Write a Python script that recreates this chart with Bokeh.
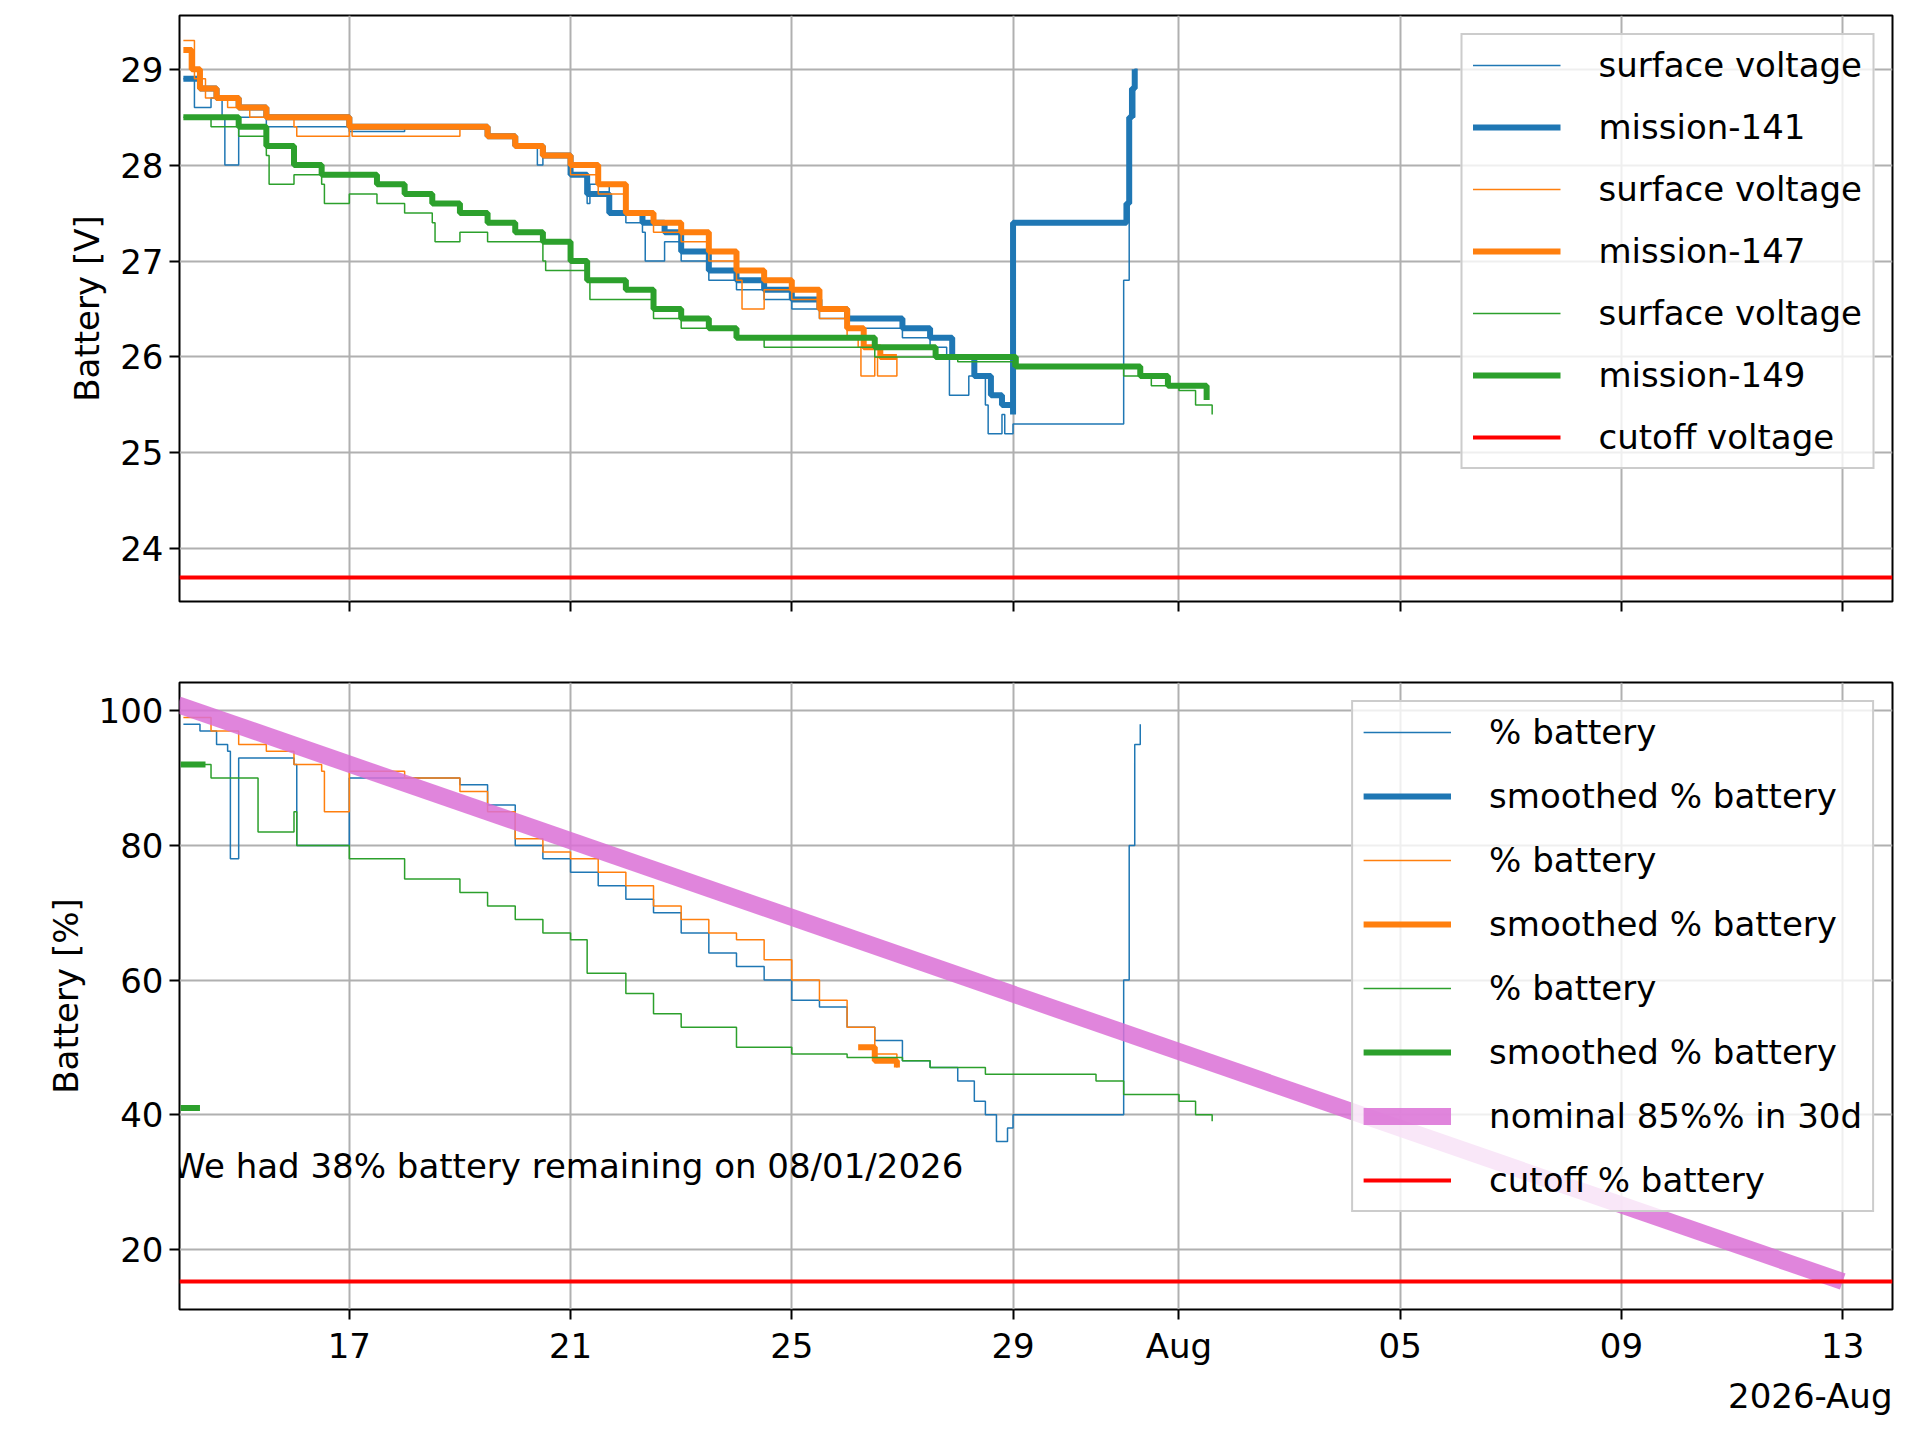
from bokeh.plotting import figure
from bokeh.layouts import column
from bokeh.models import FixedTicker, Legend, LegendItem, Label, Title
from bokeh.embed import file_html
from bokeh.resources import INLINE

# x = days since 2026-07-14 00:00
tick_pos = [3, 7, 11, 15, 18, 22, 26, 30]
tick_lab = ["17", "21", "25", "29", "Aug", "05", "09", "13"]

# ---- voltage ----
b_sm_x = [0, 0.3, 0.6, 1, 1.5, 3, 5, 5.5, 6, 6.5, 7, 7.3, 7.7, 8.3, 8.7, 9, 9.5, 10, 10.5, 11, 11.5, 12, 13, 13.5, 13.9, 14.3, 14.6, 14.8, 15.0, 15.0, 17.0, 17.05, 17.1, 17.15, 17.2]
b_sm_y = [28.9, 28.8, 28.7, 28.6, 28.5, 28.4, 28.4, 28.3, 28.2, 28.1, 27.9, 27.7, 27.5, 27.4, 27.3, 27.1, 26.9, 26.8, 26.7, 26.6, 26.5, 26.4, 26.3, 26.2, 26.0, 25.8, 25.6, 25.5, 25.4, 27.4, 27.4, 27.6, 28.5, 28.8, 29.0]
b_sf_x = [0, 0.2, 0.5, 0.7, 0.75, 1, 1.5, 2.5, 3, 4, 5, 5.5, 6, 6.4, 6.5, 7, 7.3, 7.35, 7.7, 8, 8.3, 8.35, 8.7, 9, 9.5, 10, 10.5, 11, 11.5, 12, 13, 13.5, 13.8, 13.85, 14.2, 14.5, 14.55, 14.8, 14.85, 15.0, 17.0, 17.1, 17.2, 17.25]
b_sf_y = [28.9, 28.6, 28.7, 28.5, 28.0, 28.5, 28.4, 28.4, 28.35, 28.4, 28.4, 28.3, 28.2, 28.0, 28.1, 27.9, 27.6, 27.8, 27.5, 27.4, 27.3, 27.0, 27.2, 27.0, 26.8, 26.7, 26.6, 26.5, 26.4, 26.3, 26.2, 26.1, 26.0, 25.6, 25.8, 25.5, 25.2, 25.4, 25.2, 25.3, 26.8, 28.5, 29.0, 29.0]

o_sm_x = [0, 0.15, 0.3, 0.6, 1, 1.5, 3, 5, 5.5, 6, 6.5, 7, 7.5, 8, 8.5, 9, 9.5, 10, 10.5, 11, 11.5, 12, 12.3, 12.6, 12.9]
o_sm_y = [29.2, 29.0, 28.8, 28.7, 28.6, 28.5, 28.4, 28.4, 28.3, 28.2, 28.1, 28.0, 27.8, 27.5, 27.4, 27.3, 27.1, 26.9, 26.8, 26.7, 26.5, 26.3, 26.1, 26.0, 26.0]
o_sf_x = [0, 0.2, 0.4, 0.8, 1.2, 1.5, 2, 2.05, 3, 3.05, 5, 5.5, 6, 6.5, 7, 7.5, 8, 8.5, 9, 9.5, 10, 10.1, 10.5, 11, 11.5, 12, 12.2, 12.25, 12.5, 12.55, 12.9]
o_sf_y = [29.3, 28.9, 28.7, 28.6, 28.5, 28.5, 28.4, 28.3, 28.4, 28.3, 28.4, 28.3, 28.2, 28.1, 27.9, 27.7, 27.5, 27.3, 27.2, 27.0, 26.8, 26.5, 26.7, 26.6, 26.4, 26.2, 26.1, 25.8, 26.0, 25.8, 26.0]

g_sm_x = [0, 1, 1.5, 2, 2.5, 3.5, 4, 4.5, 5, 5.5, 6, 6.5, 7, 7.3, 8, 8.5, 9, 9.5, 10, 12, 12.5, 13.5, 13.6, 15, 15.05, 17, 17.3, 17.8, 18.5]
g_sm_y = [28.5, 28.4, 28.2, 28.0, 27.9, 27.8, 27.7, 27.6, 27.5, 27.4, 27.3, 27.2, 27.0, 26.8, 26.7, 26.5, 26.4, 26.3, 26.2, 26.2, 26.1, 26.1, 26.0, 26.0, 25.9, 25.9, 25.8, 25.7, 25.55]
g_sf_x = [0, 0.5, 1, 1.5, 1.55, 2, 2.5, 2.55, 3, 3.5, 4, 4.5, 4.55, 5, 5.5, 6, 6.5, 6.55, 7, 7.3, 7.35, 8, 8.5, 9, 9.5, 10, 10.5, 12, 12.5, 13.5, 14, 15, 16, 17, 17.5, 18, 18.3, 18.6]
g_sf_y = [28.5, 28.4, 28.3, 28.1, 27.8, 27.9, 27.8, 27.6, 27.7, 27.6, 27.5, 27.4, 27.2, 27.3, 27.2, 27.2, 27.0, 26.9, 26.9, 26.8, 26.6, 26.6, 26.4, 26.3, 26.3, 26.2, 26.1, 26.1, 26.0, 26.0, 25.95, 25.9, 25.9, 25.8, 25.7, 25.65, 25.5, 25.4]

v_cutoff = 23.7

# ---- percent ----
bp_x = [0, 0.3, 0.6, 0.8, 0.85, 1, 2, 2.05, 3, 4, 5, 5.5, 6, 6.5, 7, 7.5, 8, 8.5, 9, 9.5, 10, 10.5, 11, 11.5, 12, 12.5, 13, 13.5, 14, 14.3, 14.5, 14.7, 14.9, 15.0, 17.0, 17.1, 17.2, 17.3]
bp_y = [98, 97, 95, 94, 78, 93, 92, 80, 90, 90, 89, 86, 80, 78, 76, 74, 72, 70, 67, 64, 62, 60, 57, 56, 53, 51, 48, 47, 45, 42, 40, 36, 38, 40, 60, 80, 95, 98]
op_x = [0, 0.5, 1, 1.5, 2, 2.5, 2.55, 3, 4, 4.5, 5, 5.5, 6, 6.5, 7, 7.5, 8, 8.5, 9, 9.5, 10, 10.5, 11, 11.5, 12, 12.5, 12.9]
op_y = [99, 97, 95, 94, 92, 91, 85, 91, 90, 90, 88, 85, 81, 79, 78, 76, 74, 71, 69, 67, 66, 63, 60, 57, 53, 49, 47]
op_sm_x = [12.2, 12.5, 12.9]
op_sm_y = [50, 48, 47]
gp_x = [0, 0.5, 1, 1.3, 1.35, 2, 2.05, 3, 4, 5, 5.5, 6, 6.5, 7, 7.3, 8, 8.5, 9, 10, 11, 12, 13, 13.5, 14.5, 16, 16.5, 17, 18, 18.3, 18.6]
gp_y = [92, 90, 90, 90, 82, 85, 80, 78, 75, 73, 71, 69, 67, 66, 61, 58, 55, 53, 50, 49, 48.5, 48, 47, 46, 46, 45, 43, 42, 40, 39]
gp_sm1_x = [-0.05, 0.4]
gp_sm1_y = [92, 92]
gp_sm2_x = [-0.05, 0.3]
gp_sm2_y = [41, 41]
nom_x = [-0.1, 30]
nom_y = [100.9, 15.2]
p_cutoff = 15.2

blue, orange, green = "#1f77b4", "#ff7f0e", "#2ca02c"
FS = "34px"

def base(h, bt, bb):
    f = figure(width=1904, height=h, x_range=(-0.07, 30.9), output_backend="svg",
               toolbar_location=None, min_border_left=179, min_border_right=12,
               min_border_top=bt, min_border_bottom=bb)
    f.outline_line_color = "black"
    f.outline_line_width = 2
    f.outline_line_alpha = 1
    for ax in (f.xaxis[0], f.yaxis[0]):
        ax.axis_line_color = None
        ax.major_tick_line_width = 2
        ax.major_tick_out = 10
        ax.major_tick_in = 0
        ax.major_label_standoff = 6
        ax.minor_tick_line_color = None
        ax.major_label_text_font_size = FS
        ax.major_label_text_font = "DejaVu Sans"
        ax.major_label_text_color = "black"
        ax.axis_label_text_font_size = FS
        ax.axis_label_text_font = "DejaVu Sans"
        ax.axis_label_text_font_style = "normal"
        ax.axis_label_text_color = "black"
        ax.axis_label_standoff = 10
    f.xaxis.ticker = FixedTicker(ticks=tick_pos)
    f.xaxis.major_label_overrides = dict(zip(tick_pos, tick_lab))
    f.xgrid.ticker = FixedTicker(ticks=tick_pos)
    for g in (f.xgrid[0], f.ygrid[0]):
        g.grid_line_color = "#b0b0b0"
        g.grid_line_width = 2
    return f

def mklegend(f, items, spacing):
    lg = Legend(items=items, location="top_right", label_text_font_size=FS,
                label_text_font="DejaVu Sans", label_text_color="black",
                glyph_width=88, glyph_height=32, label_standoff=38,
                spacing=spacing, padding=10, margin=18, border_line_color="#cccccc",
                border_line_width=2, border_line_alpha=1, background_fill_alpha=0.8)
    f.add_layout(lg)

top = base(660, 15, 22)
top.y_range.start, top.y_range.end = 23.45, 29.56
top.yaxis.ticker = FixedTicker(ticks=[24, 25, 26, 27, 28, 29])
top.ygrid.ticker = FixedTicker(ticks=[24, 25, 26, 27, 28, 29])
top.xaxis.major_label_overrides = {t: " " for t in tick_pos}
top.yaxis.axis_label = "Battery [V]"
r1 = top.step(b_sf_x, b_sf_y, color=blue, line_width=1.5, mode="after")
r2 = top.step(b_sm_x, b_sm_y, color=blue, line_width=6, mode="after")
r3 = top.step(o_sf_x, o_sf_y, color=orange, line_width=1.5, mode="after")
r4 = top.step(o_sm_x, o_sm_y, color=orange, line_width=6, mode="after")
r5 = top.step(g_sf_x, g_sf_y, color=green, line_width=1.5, mode="after")
r6 = top.step(g_sm_x, g_sm_y, color=green, line_width=6, mode="after")
r7 = top.line([-0.07, 30.9], [v_cutoff, v_cutoff], color="red", line_width=4)
mklegend(top, [LegendItem(label="surface voltage", renderers=[r1]),
               LegendItem(label="mission-141", renderers=[r2]),
               LegendItem(label="surface voltage", renderers=[r3]),
               LegendItem(label="mission-147", renderers=[r4]),
               LegendItem(label="surface voltage", renderers=[r5]),
               LegendItem(label="mission-149", renderers=[r6]),
               LegendItem(label="cutoff voltage", renderers=[r7])], 22)

bot = base(760, 22, 60)
bot.y_range.start, bot.y_range.end = 11.05, 104.2
bot.yaxis.ticker = FixedTicker(ticks=[20, 40, 60, 80, 100])
bot.ygrid.ticker = FixedTicker(ticks=[20, 40, 60, 80, 100])
bot.yaxis.axis_label = "Battery [%]"
q1 = bot.step(bp_x, bp_y, color=blue, line_width=1.5, mode="after")
q3 = bot.step(op_x, op_y, color=orange, line_width=1.5, mode="after")
q4 = bot.step(op_sm_x, op_sm_y, color=orange, line_width=6, mode="after")
q5 = bot.step(gp_x, gp_y, color=green, line_width=1.5, mode="after")
q6 = bot.line(gp_sm1_x, gp_sm1_y, color=green, line_width=6)
bot.line(gp_sm2_x, gp_sm2_y, color=green, line_width=6)
q2 = bot.line([-5, -4], [50, 50], color=blue, line_width=6)
q7 = bot.line(nom_x, nom_y, color="orchid", line_width=17, alpha=0.85)
q8 = bot.line([-0.07, 30.9], [p_cutoff, p_cutoff], color="red", line_width=4)
mklegend(bot, [LegendItem(label="% battery", renderers=[q1]),
               LegendItem(label="smoothed % battery", renderers=[q2]),
               LegendItem(label="% battery", renderers=[q3]),
               LegendItem(label="smoothed % battery", renderers=[q4]),
               LegendItem(label="% battery", renderers=[q5]),
               LegendItem(label="smoothed % battery", renderers=[q6]),
               LegendItem(label="nominal 85%% in 30d", renderers=[q7]),
               LegendItem(label="cutoff % battery", renderers=[q8])], 24)
bot.add_layout(Label(x=-0.2, y=32.4, text="We had 38% battery remaining on 08/01/2026",
                     text_font_size=FS, text_font="DejaVu Sans", text_baseline="middle",
                     text_color="black"))
bot.add_layout(Title(text="2026-Aug", align="right", text_font_size=FS,
                     text_font="DejaVu Sans", text_font_style="normal",
                     text_color="black"), "below")

layout = column(top, bot, spacing=0)
open("out.html", "w").write(file_html(layout, INLINE))
